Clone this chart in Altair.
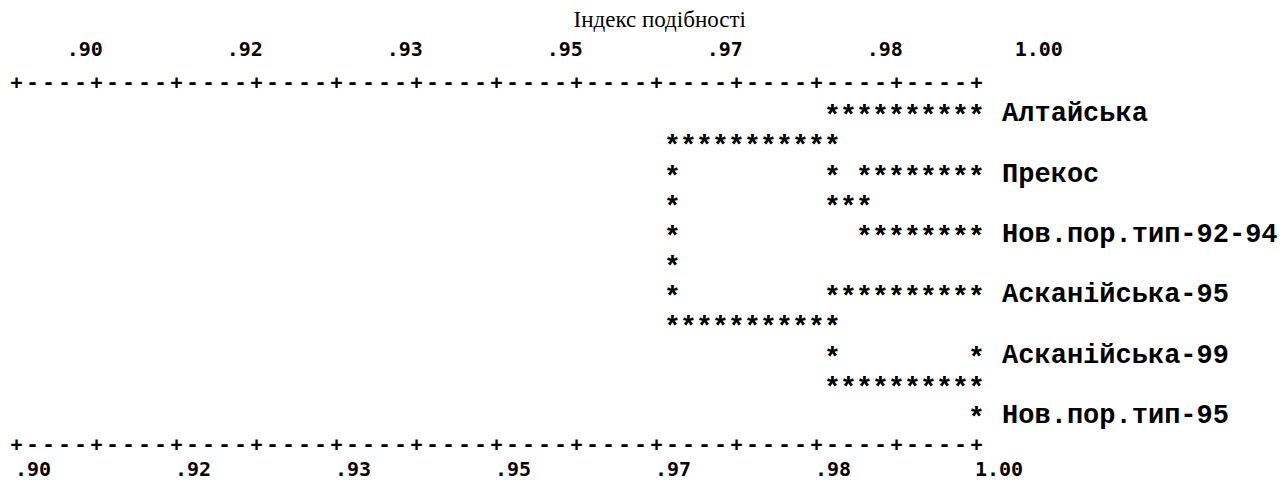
import altair as alt
import pandas as pd

# ---------------- data ----------------
title_text = "Індекс подібності"
tick_labels = [".90", ".92", ".93", ".95", ".97", ".98", "1.00"]
cultivars = ["Алтайська", "Прекос", "Нов.пор.тип-92-94",
             "Асканійська-95", "Асканійська-99", "Нов.пор.тип-95"]
cultivar_rows = [1, 3, 5, 7, 9, 11]
tree_rows = [
    " " * 51 + "*" * 10,
    " " * 41 + "*" * 11,
    " " * 41 + "*" + " " * 9 + "* " + "*" * 8,
    " " * 41 + "*" + " " * 9 + "***",
    " " * 41 + "*" + " " * 11 + "*" * 8,
    " " * 41 + "*",
    " " * 41 + "*" + " " * 9 + "*" * 10,
    " " * 41 + "*" * 11,
    " " * 51 + "*" + " " * 8 + "*",
    " " * 51 + "*" * 10,
    " " * 60 + "*",
]
ruler_text = "+----" * 12 + "+"

# ---------------- tables ----------------
tree_df = pd.DataFrame(
    [{"col": c, "row": r, "ch": ch}
     for r, s in enumerate(tree_rows, start=1)
     for c, ch in enumerate(s) if ch != " "]
)
last_row = len(tree_rows) + 1
ruler_df = pd.DataFrame(
    [{"col": c, "row": r, "ch": ch}
     for r in (0, last_row)
     for c, ch in enumerate(ruler_text)]
)
ticks_df = pd.DataFrame({"label": tick_labels, "k": list(range(len(tick_labels)))})
names_df = pd.DataFrame({"name": cultivars, "row": cultivar_rows})
title_df = pd.DataFrame({"text": [title_text]})

# ---------------- layout ----------------
W, H = 1271, 472
COL_PX, COL0_PX = 16.0, 8.5      # pixel width of a character cell, x of column 0
ROW_PX, ROW0_PX = 30.17, 75.0    # pixel height of a line, y of the top ruler

xscale = alt.Scale(domain=[-COL0_PX / COL_PX, (W - COL0_PX) / COL_PX], nice=False, zero=False)
yscale = alt.Scale(domain=[(H - ROW0_PX) / ROW_PX, -ROW0_PX / ROW_PX], nice=False, zero=False)

X = alt.X("col:Q", scale=xscale, axis=None)
Y = alt.Y("row:Q", scale=yscale, axis=None)

RULER_FONT = "DejaVu Sans Mono"
TREE_FONT = "Liberation Mono"

ruler = alt.Chart(ruler_df).mark_text(
    font=RULER_FONT, fontSize=20, fontWeight="bold", align="center", baseline="middle", color="black"
).encode(x=X, y=Y, text="ch:N")

top_ticks = alt.Chart(ticks_df).transform_calculate(
    col="10 * datum.k + 5.4", row="-1.09"
).mark_text(
    font=RULER_FONT, fontSize=20, fontWeight="bold", align="right", baseline="middle", color="black"
).encode(x=X, y=Y, text="label:N")

bottom_ticks = alt.Chart(ticks_df).transform_calculate(
    col="10 * datum.k - 0.1", row=f"{last_row} + 0.83"
).mark_text(
    font=RULER_FONT, fontSize=20, fontWeight="bold", align="left", baseline="middle", color="black"
).encode(x=X, y=Y, text="label:N")

tree = alt.Chart(tree_df).mark_text(
    font=TREE_FONT, fontSize=28, fontWeight="bold", align="center", baseline="middle",
    color="black", dy=3
).encode(x=X, y=Y, text="ch:N")

names = alt.Chart(names_df).transform_calculate(col="61.6").mark_text(
    font=TREE_FONT, fontSize=27, fontWeight="bold", align="left", baseline="middle", color="black"
).encode(x=X, y=Y, text="name:N")

title = alt.Chart(title_df).transform_calculate(col="40.2", row="-2.09").mark_text(
    font="Liberation Serif", fontSize=23, fontWeight="normal", align="center", baseline="middle", color="black"
).encode(x=X, y=Y, text="text:N")

chart = alt.layer(title, ruler, top_ticks, bottom_ticks, tree, names).properties(
    width=W, height=H,
    autosize=alt.AutoSizeParams(type="none"),
    padding={"left": 0, "top": 0, "right": 0, "bottom": 0},
    background="white",
).configure_view(stroke=None)

chart.save("out.html", embed_options={"renderer": "svg", "actions": False})
